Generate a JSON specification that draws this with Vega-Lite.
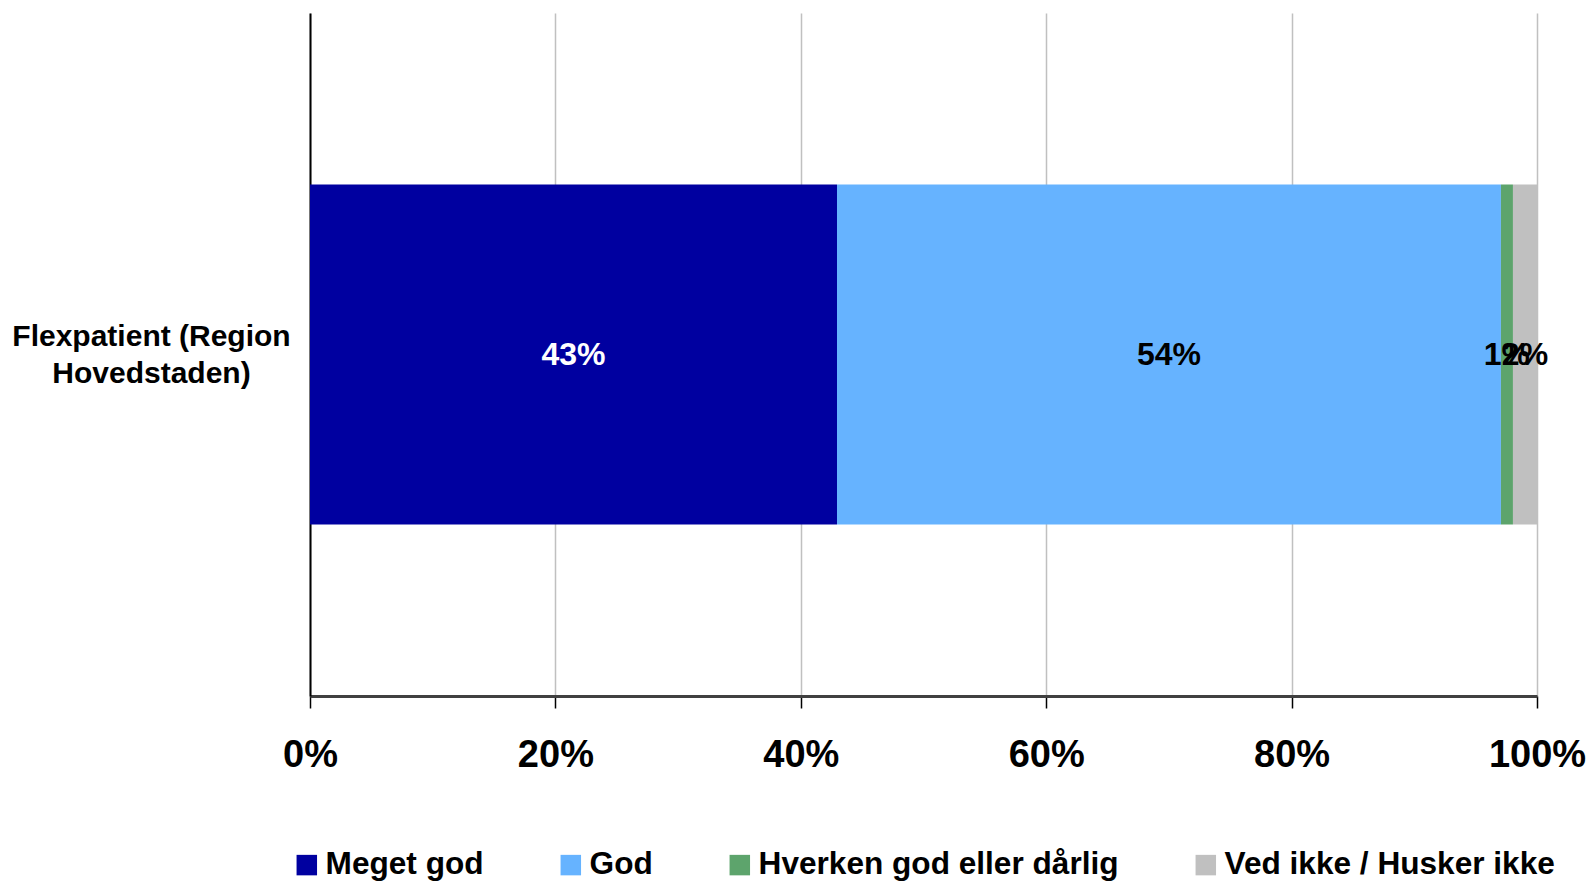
{
  "$schema": "https://vega.github.io/schema/vega-lite/v6.json",
  "autosize": "none",
  "padding": {"left": 310, "top": 13, "right": 54, "bottom": 185},
  "width": 1227,
  "height": 683,
  "background": "white",
  "config": {
    "font": "Liberation Sans",
    "view": {"stroke": null}
  },
  "data": {
    "values": [
      {"group": "Flexpatient (Region Hovedstaden)", "answer": "Meget god", "order": 1, "share": 0.4295},
      {"group": "Flexpatient (Region Hovedstaden)", "answer": "God", "order": 2, "share": 0.5411},
      {"group": "Flexpatient (Region Hovedstaden)", "answer": "Hverken god eller dårlig", "order": 3, "share": 0.0098},
      {"group": "Flexpatient (Region Hovedstaden)", "answer": "Ved ikke / Husker ikke", "order": 4, "share": 0.0196}
    ]
  },
  "transform": [
    {"stack": "share", "groupby": ["group"], "sort": [{"field": "order"}], "as": ["s0", "s1"]},
    {"calculate": "(datum.s0 + datum.s1) / 2", "as": "mid"}
  ],
  "encoding": {
    "y": {
      "field": "group",
      "type": "nominal",
      "title": null,
      "scale": {"paddingInner": 0, "paddingOuter": 0.505},
      "axis": {
        "labelExpr": "['Flexpatient (Region', 'Hovedstaden)']",
        "labelFontSize": 30,
        "labelFontWeight": "bold",
        "labelColor": "black",
        "labelAlign": "center",
        "labelBaseline": "middle",
        "labelLineHeight": 37,
        "labelOffset": -18,
        "labelPadding": 159,
        "labelLimit": 400,
        "ticks": false,
        "domainColor": "black",
        "domainWidth": 2
      }
    }
  },
  "layer": [
    {
      "mark": {"type": "bar"},
      "encoding": {
        "x": {
          "field": "s0",
          "type": "quantitative",
          "scale": {"domain": [0, 1], "nice": false},
          "title": null,
          "axis": {
            "values": [0, 0.2, 0.4, 0.6, 0.8, 1],
            "format": ".0%",
            "labelFontSize": 38,
            "labelFontWeight": "bold",
            "labelColor": "black",
            "labelPadding": 28,
            "labelFlush": false,
            "tickSize": 12,
            "tickColor": "black",
            "tickWidth": 1.5,
            "domainColor": "#404040",
            "domainWidth": 3,
            "grid": true,
            "gridColor": "#C0C0C0",
            "gridWidth": 1.5
          }
        },
        "x2": {"field": "s1"},
        "color": {
          "field": "answer",
          "type": "nominal",
          "sort": ["Meget god", "God", "Hverken god eller dårlig", "Ved ikke / Husker ikke"],
          "scale": {
            "domain": ["Meget god", "God", "Hverken god eller dårlig", "Ved ikke / Husker ikke"],
            "range": ["#0000A0", "#66B3FF", "#5DA46C", "#C0C0C0"]
          },
          "legend": {
            "title": null,
            "orient": "none",
            "direction": "horizontal",
            "legendX": -19,
            "legendY": 836,
            "padding": 0,
            "columnPadding": 71,
            "symbolType": "square",
            "symbolSize": 420,
            "symbolStrokeWidth": 0,
            "symbolOpacity": 1,
            "labelOffset": 3,
            "labelFontSize": 31.6,
            "labelFontWeight": "bold",
            "labelColor": "black",
            "labelLimit": 600
          }
        }
      }
    },
    {
      "mark": {"type": "text", "fontSize": 32, "fontWeight": "bold", "baseline": "middle", "align": "center"},
      "encoding": {
        "x": {"field": "mid", "type": "quantitative"},
        "text": {"field": "share", "type": "quantitative", "format": ".0%"},
        "color": {
          "condition": {"test": "datum.answer === 'Meget god'", "value": "white"},
          "value": "black"
        }
      }
    }
  ]
}
